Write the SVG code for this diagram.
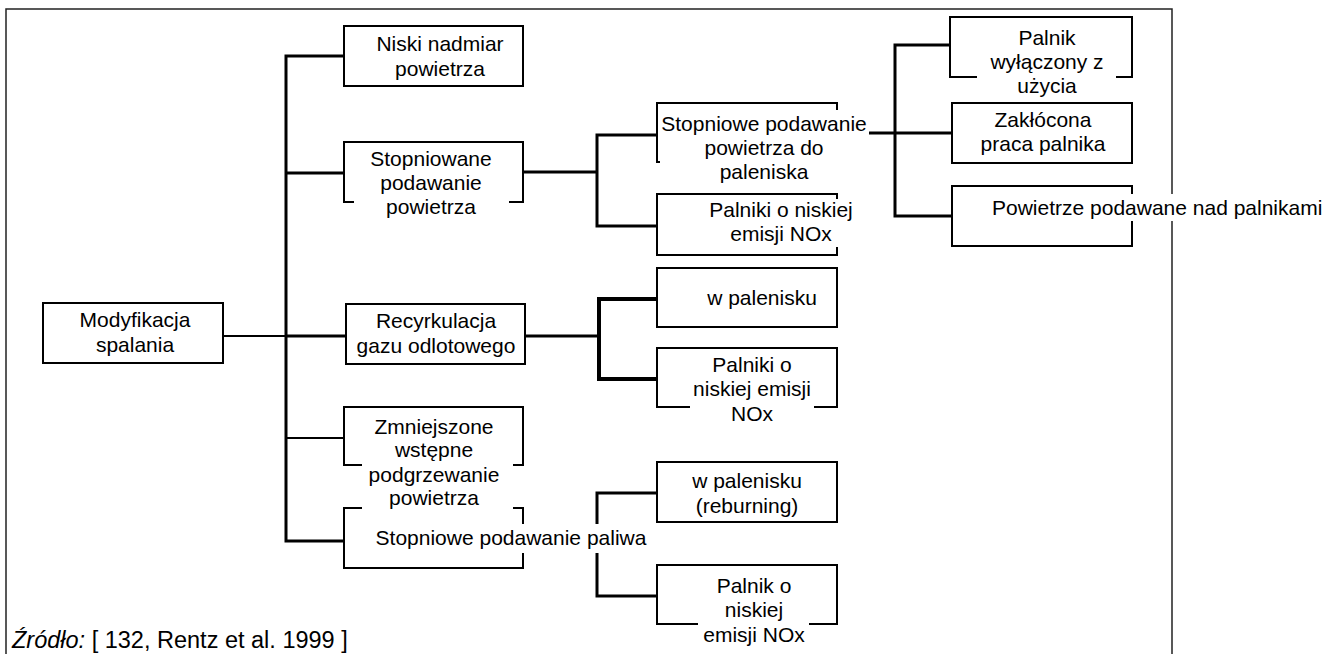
<svg xmlns="http://www.w3.org/2000/svg" width="1328" height="654" viewBox="0 0 1328 654">
  <style>
    .frame { fill: none; stroke: #222; stroke-width: 1.5; }
    .link { fill: none; stroke: #000; stroke-width: 3; stroke-linejoin: miter; }
    .thin { stroke-width: 2; }
    .heavy { stroke-width: 4; }
    .box { fill: #fff; stroke: #000; stroke-width: 2; }
    .bg { fill: #fff; stroke: none; }
    .t { font-family: "Liberation Sans", Arial, sans-serif; font-size: 21px; fill: #000; text-anchor: middle; }
    .ts { text-anchor: start; }
    .note { font-family: "Liberation Sans", Arial, sans-serif; font-size: 23.5px; fill: #000; }
  </style>

  <rect width="1328" height="654" fill="#fff"/>

  <!-- page frame, open at the bottom -->
  <path class="frame" d="M6,654 V9 H1172 V654"/>

  <!-- tree connectors -->
  <g id="connectors">
    <path class="link thin" d="M223,336 H286"/>
    <path class="link" d="M344,56 H286 V541 H344"/>
    <path class="link" d="M286,173 H344"/>
    <path class="link" d="M286,336 H346"/>
    <path class="link thin" d="M286,438 H344"/>

    <path class="link" d="M523,172 H597"/>
    <path class="link" d="M657,135 H597 V226 H657"/>

    <path class="link" d="M525,336 H599"/>
    <path class="link heavy" d="M657,299 H599 V379 H657"/>

    <path class="link" d="M523,541 H597"/>
    <path class="link" d="M657,493 H597 V596 H657"/>

    <path class="link" d="M869,133 H952"/>
    <path class="link" d="M950,45 H895 V216 H952"/>
  </g>

  <g id="n-modyfikacja">
    <rect class="box" x="43" y="303" width="180" height="60"/>
    <text class="t" x="135" y="327">Modyfikacja</text>
    <text class="t" x="135" y="352">spalania</text>
  </g>

  <g id="n-niski">
    <rect class="box" x="344" y="26" width="179" height="60"/>
    <text class="t" x="440" y="51">Niski nadmiar</text>
    <text class="t" x="440" y="76">powietrza</text>
  </g>

  <g id="n-stopniowane">
    <rect class="box" x="344" y="142" width="179" height="60"/>
    <rect class="bg" x="354" y="147" width="155" height="75"/>
    <text class="t" x="431" y="166">Stopniowane</text>
    <text class="t" x="431" y="190">podawanie</text>
    <text class="t" x="431" y="214">powietrza</text>
  </g>

  <g id="n-recyrkulacja">
    <rect class="box" x="346" y="304" width="179" height="60"/>
    <text class="t" x="436" y="328">Recyrkulacja</text>
    <text class="t" x="436" y="353">gazu odlotowego</text>
  </g>

  <g id="n-paliwo">
    <rect class="box" x="344" y="508" width="179" height="60"/>
    <rect class="bg" x="360" y="524" width="292" height="29"/>
    <text class="t" x="511" y="545">Stopniowe podawanie paliwa</text>
  </g>

  <g id="n-zmniejszone">
    <rect class="box" x="344" y="407" width="179" height="58"/>
    <rect class="bg" x="362" y="412" width="151" height="101"/>
    <text class="t" x="434" y="434">Zmniejszone</text>
    <text class="t" x="434" y="457">wstępne</text>
    <text class="t" x="434" y="482">podgrzewanie</text>
    <text class="t" x="434" y="505">powietrza</text>
  </g>

  <g id="n-paleniska">
    <rect class="box" x="657" y="103" width="180" height="59"/>
    <rect class="bg" x="660" y="110" width="208" height="76"/>
    <text class="t" x="764" y="131">Stopniowe podawanie</text>
    <text class="t" x="764" y="155">powietrza do</text>
    <text class="t" x="764" y="179">paleniska</text>
  </g>

  <g id="n-palniki-1">
    <rect class="box" x="657" y="194" width="180" height="61"/>
    <rect class="bg" x="700" y="199" width="156" height="48"/>
    <text class="t" x="781" y="217">Palniki o niskiej</text>
    <text class="t" x="781" y="241">emisji NOx</text>
  </g>

  <g id="n-palenisko-1">
    <rect class="box" x="657" y="268" width="180" height="59"/>
    <text class="t" x="762" y="305">w palenisku</text>
  </g>

  <g id="n-palniki-2">
    <rect class="box" x="657" y="348" width="180" height="59"/>
    <rect class="bg" x="690" y="353" width="124" height="75"/>
    <text class="t" x="752" y="372">Palniki o</text>
    <text class="t" x="752" y="396">niskiej emisji</text>
    <text class="t" x="752" y="421">NOx</text>
  </g>

  <g id="n-reburning">
    <rect class="box" x="657" y="462" width="180" height="60"/>
    <text class="t" x="747" y="488">w palenisku</text>
    <text class="t" x="747" y="513">(reburning)</text>
  </g>

  <g id="n-palnik">
    <rect class="box" x="657" y="565" width="180" height="59"/>
    <rect class="bg" x="698" y="570" width="111" height="78"/>
    <text class="t" x="754" y="593">Palnik o</text>
    <text class="t" x="754" y="617">niskiej</text>
    <text class="t" x="754" y="642">emisji NOx</text>
  </g>

  <g id="n-wylaczony">
    <rect class="box" x="950" y="17" width="182" height="60"/>
    <rect class="bg" x="977" y="22" width="139" height="78"/>
    <text class="t" x="1047" y="45">Palnik</text>
    <text class="t" x="1047" y="69">wyłączony z</text>
    <text class="t" x="1047" y="93">użycia</text>
  </g>

  <g id="n-zaklocona">
    <rect class="box" x="952" y="103" width="180" height="60"/>
    <text class="t" x="1043" y="127">Zakłócona</text>
    <text class="t" x="1043" y="151">praca palnika</text>
  </g>

  <g id="n-nad-palnikami">
    <rect class="box" x="952" y="186" width="180" height="60"/>
    <rect class="bg" x="990" y="194" width="338" height="27"/>
    <text class="t ts" x="992" y="215">Powietrze podawane nad palnikami</text>
  </g>

  <!-- source note -->
  <text class="note" x="12" y="648"><tspan font-style="italic">Źródło:</tspan> [ 132, Rentz et al. 1999 ]</text>
</svg>
